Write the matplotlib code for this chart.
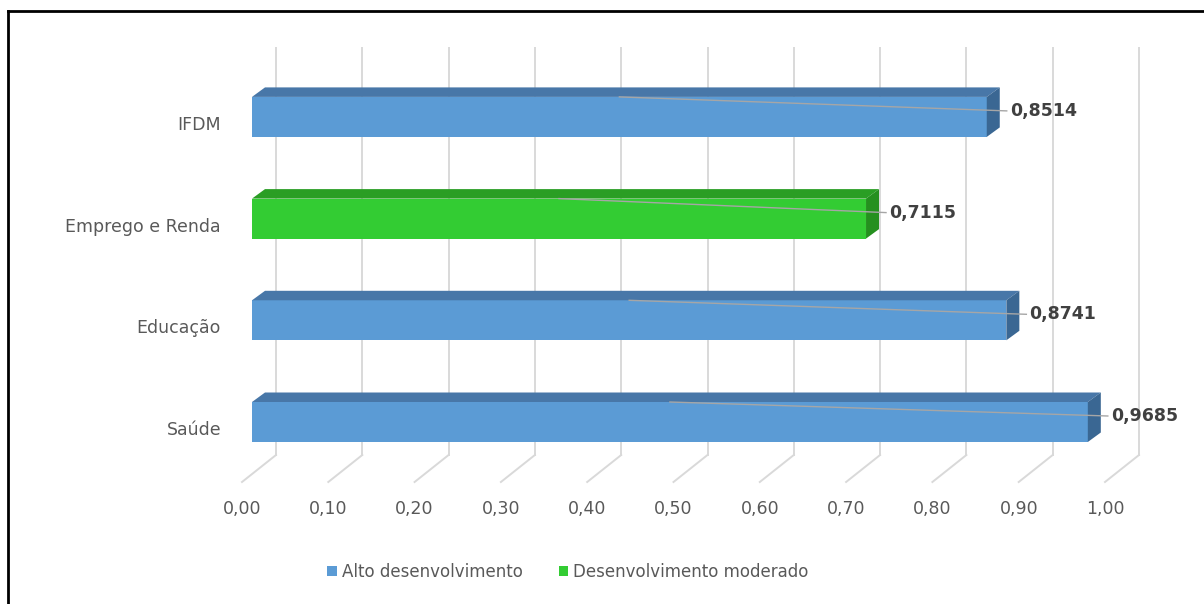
import matplotlib.pyplot as plt
from matplotlib.patches import Patch, Polygon
from matplotlib.lines import Line2D
import numpy as np

plt.rcParams["font.family"] = ["DejaVu Sans"]

# bottom to top, as the bars are stacked on the chart
categories = ["Saúde", "Educação", "Emprego e Renda", "IFDM"]
values = [0.9685, 0.8741, 0.7115, 0.8514]
groups = ["Alto desenvolvimento", "Alto desenvolvimento",
          "Desenvolvimento moderado", "Alto desenvolvimento"]
group_names = ["Alto desenvolvimento", "Desenvolvimento moderado"]
ticks = np.arange(0, 1.01, 0.1)

# front / top / side shading for each group
palette = {
    "Alto desenvolvimento": ("#5B9BD5", "#4877A8", "#3A6793"),
    "Desenvolvimento moderado": ("#33CC33", "#2A9E24", "#25901F"),
}

W, H = 1204, 604
fig = plt.figure(figsize=(W / 100, H / 100), dpi=100)
ax = fig.add_axes([0, 0, 1, 1])

# one x unit = 863 px, one category step = 101.7 px
sx, sy = 863.0, 101.7
x0_px, y0_px = 252.0, 422.0
ax.set_xlim(-x0_px / sx, (W - x0_px) / sx)
ax.set_ylim((y0_px - H) / sy, y0_px / sy)
ax.axis("off")


def px_y(p):
    return (y0_px - p) / sy


# oblique depth offsets
back_dx = 24 / sx
front_dx = -10 / sx
bar_dx, bar_dy = 13 / sx, 9.5 / sy
bar_h = 40 / sy
grid_top, floor_back, floor_front = px_y(48), px_y(455), px_y(482)

grid_c = "#D9D9D9"
txt_c = "#595959"
for t in ticks:
    ax.plot([t + back_dx, t + back_dx], [floor_back, grid_top],
            color=grid_c, lw=1.4, zorder=1)
    ax.plot([t + back_dx, t + front_dx], [floor_back, floor_front],
            color=grid_c, lw=1.4, zorder=1)
    ax.text(t + front_dx, px_y(509), f"{t:.2f}".replace(".", ","),
            ha="center", va="center", fontsize=12.5, color=txt_c)

for i, (cat, v, g) in enumerate(zip(categories, values, groups)):
    front, top, side = palette[g]
    ax.barh(i, v, height=bar_h, left=0, color=front, zorder=3)
    yt, yb = i + bar_h / 2, i - bar_h / 2
    ax.add_patch(Polygon([(0, yt), (v, yt), (v + bar_dx, yt + bar_dy),
                          (bar_dx, yt + bar_dy)], closed=True,
                         facecolor=top, edgecolor="none", zorder=3))
    ax.add_patch(Polygon([(v, yb), (v, yt), (v + bar_dx, yt + bar_dy),
                          (v + bar_dx, yb + bar_dy)], closed=True,
                         facecolor=side, edgecolor="none", zorder=3))

    # leader line and value label
    lx, ly = v + 23 / sx, i + 6 / sy
    ax.plot([v / 2, lx - 3 / sx], [yt, ly], color="#A6A6A6", lw=1, zorder=4)
    ax.text(lx, ly, f"{v:.4f}".replace(".", ","), ha="left", va="center",
            fontsize=12.5, fontweight="bold", color="#404040", zorder=5)

    ax.text(-31 / sx, i - 8 / sy, cat, ha="right", va="center",
            fontsize=12.5, color=txt_c)

handles = [Patch(facecolor=palette[g][0], edgecolor="none") for g in group_names]
leg = fig.legend(handles, group_names, loc="center", ncol=2,
                 bbox_to_anchor=(568 / W, 1 - 572 / H), frameon=False,
                 handlelength=0.55, handleheight=0.55, handletextpad=0.3,
                 columnspacing=2.2, fontsize=12)
for txt in leg.get_texts():
    txt.set_color(txt_c)

# frame along the top and left edges
fig.add_artist(Line2D([8 / W, 1], [1 - 11 / H, 1 - 11 / H], color="black",
                      lw=2, transform=fig.transFigure))
fig.add_artist(Line2D([8 / W, 8 / W], [0, 1 - 11 / H], color="black",
                      lw=2, transform=fig.transFigure))

fig.savefig("out.png", dpi=100)
